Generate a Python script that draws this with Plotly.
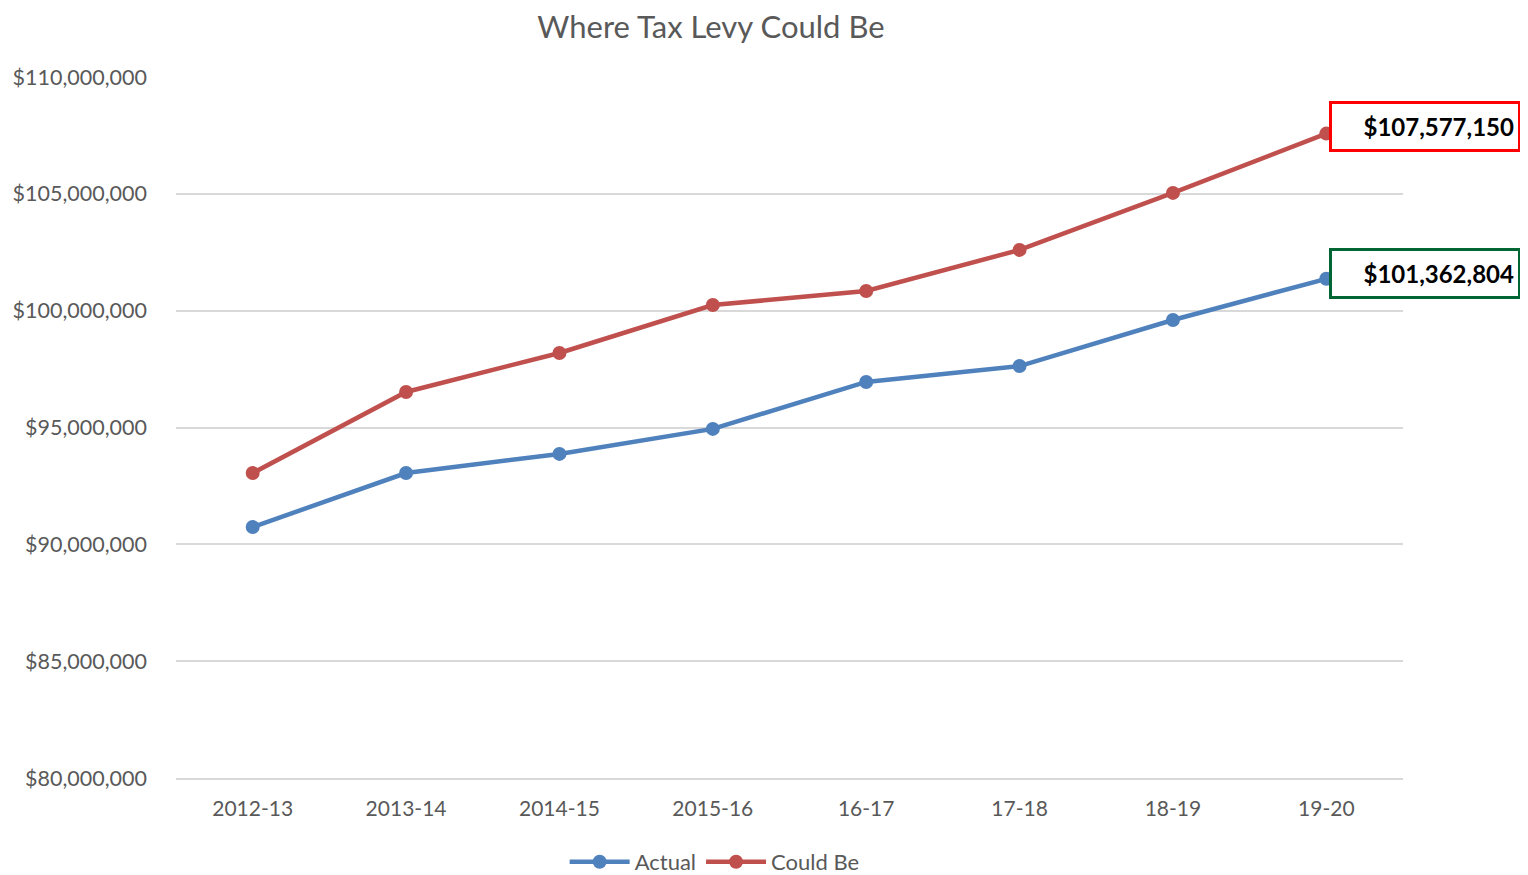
import plotly.graph_objects as go

categories = ["2012-13", "2013-14", "2014-15", "2015-16", "16-17", "17-18", "18-19", "19-20"]
actual = [90740000, 93050000, 93870000, 94940000, 96950000, 97630000, 99600000, 101362804]
could_be = [93050000, 96520000, 98190000, 100240000, 100840000, 102600000, 105040000, 107577150]
y_ticks = [80000000, 85000000, 90000000, 95000000, 100000000, 105000000, 110000000]

FONT = "Lato"
GREY = "#595959"

fig = go.Figure()
fig.add_trace(go.Scatter(
    x=categories, y=actual, name="Actual", mode="lines+markers",
    line=dict(color="#4f81bd", width=4.5), marker=dict(size=14, color="#4f81bd")))
fig.add_trace(go.Scatter(
    x=categories, y=could_be, name="Could Be", mode="lines+markers",
    line=dict(color="#c0504d", width=4.5), marker=dict(size=14, color="#c0504d")))

def label(v, color, yshift):
    fig.add_annotation(
        x=categories[-1], y=v, xref="x", yref="y",
        text="<b>${:,.0f}</b>".format(v), showarrow=False,
        xanchor="left", yanchor="middle", xshift=3, yshift=yshift,
        font=dict(family=FONT, size=24, color="black"),
        bgcolor="white", bordercolor=color, borderwidth=3, borderpad=4,
        width=178, height=37, align="right")

label(could_be[-1], "#ff0000", 7)
label(actual[-1], "#006633", 5)

fig.update_layout(
    width=1520, height=867,
    margin=dict(l=168, r=125, t=69, b=97, autoexpand=False),
    paper_bgcolor="white", plot_bgcolor="white",
    title=dict(text="Where Tax Levy Could Be", x=0.436, xref="paper", xanchor="center",
               y=0.99, yanchor="top", font=dict(family=FONT, size=31, color=GREY)),
    font=dict(family=FONT, color=GREY, size=21),
    showlegend=True,
    legend=dict(orientation="h", x=0.439, xref="paper", xanchor="center",
                y=0.015, yref="container", yanchor="middle",
                font=dict(family=FONT, size=22, color=GREY), itemwidth=60),
    xaxis=dict(type="category", range=[-0.5, 7.5], showgrid=False, showline=True, automargin=False,
               linecolor="#d9d9d9", linewidth=1.5, ticks="", tickfont=dict(size=21, color=GREY)),
    yaxis=dict(range=[80000000, 110000000], tickvals=y_ticks, automargin=False,
               ticktext=["${:,.0f}".format(v) for v in y_ticks],
               showgrid=True, gridcolor="#d9d9d9", gridwidth=1.5, zeroline=False,
               ticks="", ticklen=0, tickfont=dict(size=21.5, color=GREY)),
)
fig.update_yaxes(ticklabelstandoff=28)
fig.update_xaxes(ticklabelstandoff=11)

fig.write_html("out.html")
